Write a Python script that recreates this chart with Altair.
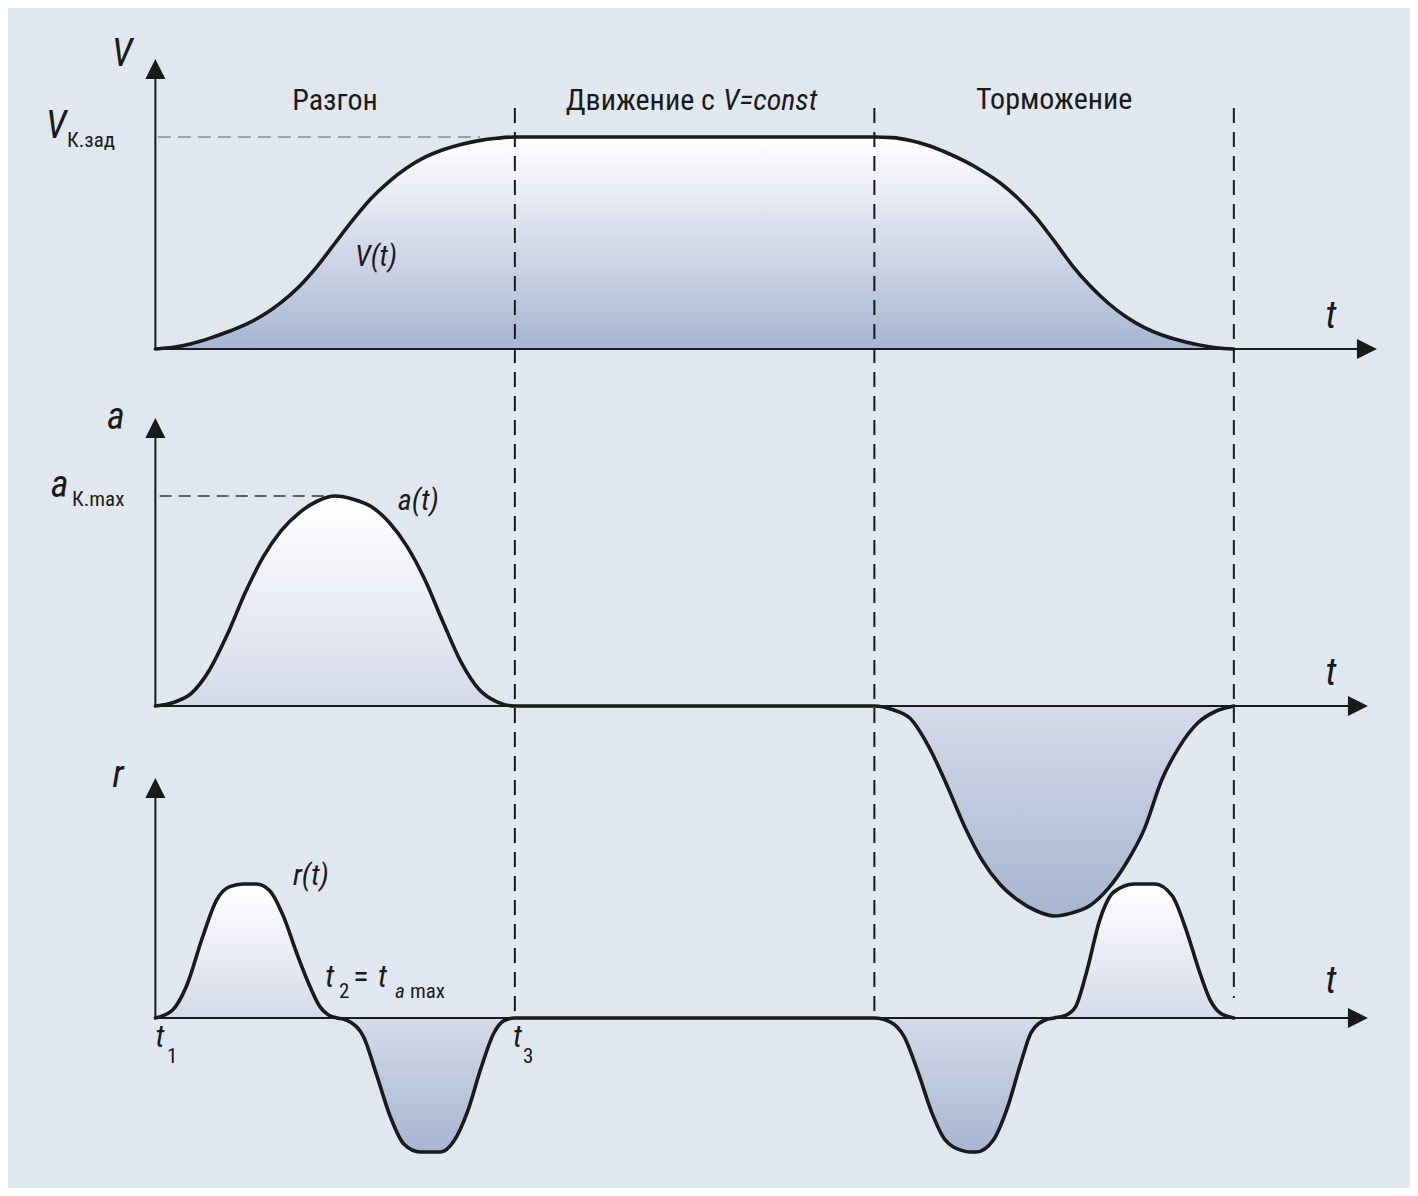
import altair as alt
import pandas as pd

# ---------------- colours / fonts ----------------
BG = "#e0e7ef"
INK = "#1a1a1a"
FILL_TOP = "#ffffff"
FILL_BOTTOM = "#a8b5d2"
FONT = "Liberation Sans Narrow, Roboto Condensed, Roboto, sans-serif"

# ---------------- layout ----------------
W = 1402
H1, H2, H3 = 375, 362, 443
X_DOMAIN = [-0.41, 3.49]
Y1_DOMAIN = [-0.1604, 1.6085]
Y2_DOMAIN = [-0.1857, 1.5381]
Y3_DOMAIN = [-1.2687, 2.0373]

# ---------------- data ----------------
# time inside one phase (t1 = 0 ... t3 = 1); braking phase runs from 2 to 3
phase_t = [0, 0.05, 0.1, 0.15, 0.2, 0.25, 0.3, 0.35, 0.4, 0.45, 0.5,
           0.55, 0.6, 0.65, 0.7, 0.75, 0.8, 0.85, 0.9, 0.95, 1.0]
v_accel = [0, 0.008, 0.025, 0.05, 0.08, 0.115, 0.16, 0.22, 0.295, 0.39, 0.50,
           0.61, 0.71, 0.79, 0.855, 0.905, 0.94, 0.965, 0.983, 0.994, 1.0]
v_brake = [1.0, 0.997, 0.983, 0.96, 0.927, 0.887, 0.84, 0.783, 0.71, 0.62, 0.51,
           0.395, 0.298, 0.217, 0.152, 0.102, 0.066, 0.04, 0.02, 0.006, 0]
a_accel = [0, 0.017, 0.06, 0.17, 0.34, 0.54, 0.71, 0.835, 0.92, 0.975, 1.0,
           0.985, 0.95, 0.875, 0.76, 0.60, 0.40, 0.21, 0.08, 0.02, 0]
a_brake = [0, -0.017, -0.06, -0.19, -0.37, -0.57, -0.735, -0.85, -0.925, -0.975, -1.0,
           -0.985, -0.95, -0.87, -0.75, -0.59, -0.35, -0.19, -0.08, -0.025, 0]
r_accel_t = [0, 0.048, 0.086, 0.132, 0.17, 0.207, 0.244, 0.281, 0.318, 0.356, 0.393,
             0.43, 0.458, 0.48, 0.505, 0.525, 0.542, 0.579, 0.616, 0.654, 0.691,
             0.737, 0.765, 0.793, 0.83, 0.868, 0.905, 0.942, 0.97, 1.0]
r_accel = [0, 0.06, 0.235, 0.61, 0.88, 0.98, 1.0, 1.0, 0.95, 0.76, 0.485,
           0.235, 0.083, 0.025, 0.0, -0.01, -0.03, -0.14, -0.43, -0.74, -0.94,
           -1.0, -1.0, -1.0, -0.92, -0.70, -0.38, -0.11, -0.02, 0]
r_brake_t = [0, 0.045, 0.083, 0.121, 0.159, 0.197, 0.245, 0.265, 0.283, 0.331, 0.37,
             0.408, 0.436, 0.475, 0.5, 0.532, 0.56, 0.59, 0.628, 0.666, 0.724,
             0.75, 0.78, 0.829, 0.867, 0.905, 0.934, 0.963, 1.0]
r_brake = [0, -0.03, -0.14, -0.40, -0.70, -0.91, -0.99, -1.0, -1.0, -0.91, -0.67,
           -0.33, -0.11, -0.015, 0, 0.02, 0.085, 0.34, 0.74, 0.94, 1.0,
           1.0, 1.0, 0.91, 0.66, 0.34, 0.135, 0.035, 0]
phase_bounds = [1, 2, 3]          # t3, start of braking, end of braking
r_dash_end = [0, 0, 0.15]

# axis extents (arrow tips) in data units
v_axis_top, a_axis_top, r_axis_top = 1.368, 1.371, 1.791
t_axis_end_1, t_axis_end_23 = 3.398, 3.373


def curve_df(ts, vs):
    return pd.DataFrame({"t": ts, "value": vs})


v_df = curve_df(phase_t + [2 + x for x in phase_t], v_accel + v_brake)
a_df = curve_df(phase_t + [2 + x for x in phase_t], a_accel + a_brake)
r_df = curve_df(r_accel_t + [2 + x for x in r_brake_t], r_accel + r_brake)

grad = alt.Gradient(
    gradient="linear",
    stops=[alt.GradientStop(color=FILL_TOP, offset=0),
           alt.GradientStop(color=FILL_BOTTOM, offset=1)],
    x1=0, x2=0, y1=0, y2=1,
)


def xs(field="t"):
    return alt.X(f"{field}:Q", scale=alt.Scale(domain=X_DOMAIN, nice=False, zero=False), axis=None)


def ys(dom, field="value"):
    return alt.Y(f"{field}:Q", scale=alt.Scale(domain=dom, nice=False, zero=False), axis=None)


def panel(df, dom, h, y_top, t_end, dash_top, dash_end, dash_offset, texts, hrefs):
    layers = []
    base = alt.Chart(df)
    layers.append(base.mark_area(interpolate="monotone", color=grad).encode(
        x=xs(), y=ys(dom), y2=alt.datum(0)))
    # axes
    ax = pd.DataFrame({"t": [0, 0], "value": [0, 0], "t2": [0, t_end - 0.03], "v2": [y_top - 0.05, 0]})
    layers.append(alt.Chart(ax).mark_rule(color=INK, strokeWidth=2).encode(
        x=xs(), y=ys(dom), x2="t2:Q", y2="v2:Q"))
    up = pd.DataFrame({"t": [0], "value": [y_top]})
    layers.append(alt.Chart(up).mark_point(shape="M0,0L-1,2L1,2Z", size=400, filled=True,
                                           color=INK, opacity=1, strokeWidth=0).encode(x=xs(), y=ys(dom)))
    rt = pd.DataFrame({"t": [t_end], "value": [0]})
    layers.append(alt.Chart(rt).mark_point(shape="M0,0L-2,-1L-2,1Z", size=400, filled=True,
                                           color=INK, opacity=1, strokeWidth=0).encode(x=xs(), y=ys(dom)))
    # horizontal dashed reference lines
    for (t0, t1, val, col, sw, dash) in hrefs:
        hd = pd.DataFrame({"t": [t0], "t2": [t1], "value": [val]})
        layers.append(alt.Chart(hd).mark_rule(color=col, strokeWidth=sw, strokeDash=dash).encode(
            x=xs(), x2="t2:Q", y=ys(dom)))
    # curve
    layers.append(base.mark_line(interpolate="monotone", color=INK, strokeWidth=3.6,
                                 strokeCap="round", strokeJoin="round").encode(x=xs(), y=ys(dom)))
    # vertical dashed phase boundaries
    dd = pd.DataFrame({"t": phase_bounds, "top": dash_top, "end": dash_end})
    layers.append(alt.Chart(dd).mark_rule(color=INK, strokeWidth=2, strokeDash=[15, 9],
                                          strokeDashOffset=dash_offset).encode(
        x=xs(), y=ys(dom, "top"), y2="end:Q"))
    # texts
    for (labels, size, italic, align) in texts:
        td = pd.DataFrame({"t": [l[1] for l in labels], "value": [l[2] for l in labels],
                           "label": [l[0] for l in labels]})
        layers.append(alt.Chart(td).mark_text(font=FONT, fontSize=size, color=INK,
                                              fontStyle="italic" if italic else "normal",
                                              align=align, baseline="alphabetic").encode(
            x=xs(), y=ys(dom), text="label:N"))
    return alt.layer(*layers).properties(width=W, height=h)


p1 = panel(
    v_df, Y1_DOMAIN, H1, v_axis_top, t_axis_end_1,
    [1.137] * 3, [Y1_DOMAIN[0]] * 3, 0,
    [
        ([("V", -0.093, 1.335), ("V", -0.2765, 0.995), ("t", 3.270, 0.099)], 38, True, "center"),
        ([("К.зад", -0.2459, 0.953)], 21, False, "left"),
        ([("Разгон", 0.4996, 1.127), ("Торможение", 2.5, 1.132)], 30, False, "center"),
        ([("Движение с", 1.5566, 1.127)], 30, False, "right"),
        ([("V=const", 1.5788, 1.127)], 30, True, "left"),
        ([("V(t)", 0.5551, 0.392)], 29, True, "left"),
    ],
    [(0.007, 0.903, 1.0, "#8a8a8a", 1.5, [13, 7])],
)

p2 = panel(
    a_df, Y2_DOMAIN, H2, a_axis_top, t_axis_end_23,
    [Y2_DOMAIN[1]] * 3, [Y2_DOMAIN[0]] * 3, 11,
    [
        ([("a", -0.110, 1.319), ("a", -0.2668, 0.995), ("t", 3.270, 0.10)], 38, True, "center"),
        ([("К.max", -0.2320, 0.952)], 21, False, "left"),
        ([("a(t)", 0.6745, 0.933)], 30, True, "left"),
    ],
    [(0.012, 0.486, 1.0, "#333333", 1.3, [12, 7])],
)

p3 = panel(
    r_df, Y3_DOMAIN, H3, r_axis_top, t_axis_end_23,
    [Y3_DOMAIN[1]] * 3, r_dash_end, 13,
    [
        ([("r", -0.104, 1.724), ("t", 3.270, 0.187)], 38, True, "center"),
        ([("t", 0.0, -0.216), ("t", 0.9947, -0.216), ("t", 0.4727, 0.231), ("t", 0.6192, 0.231)], 31, True, "left"),
        ([("1", 0.0325, -0.336), ("3", 1.0228, -0.336), ("2", 0.5107, 0.149), ("max", 0.7082, 0.149)], 21, False, "left"),
        ([("a", 0.6665, 0.149)], 21, True, "left"),
        ([("=", 0.5719, 0.231)], 32, False, "center"),
        ([("r(t)", 0.3827, 0.993)], 30, True, "left"),
    ],
    [],
)

chart = alt.vconcat(p1, p2, p3, spacing=0, bounds="flush").properties(
    background=BG, padding=0
).configure_view(stroke=None)

chart.save("out.html", embed_options={"renderer": "svg", "actions": False})
